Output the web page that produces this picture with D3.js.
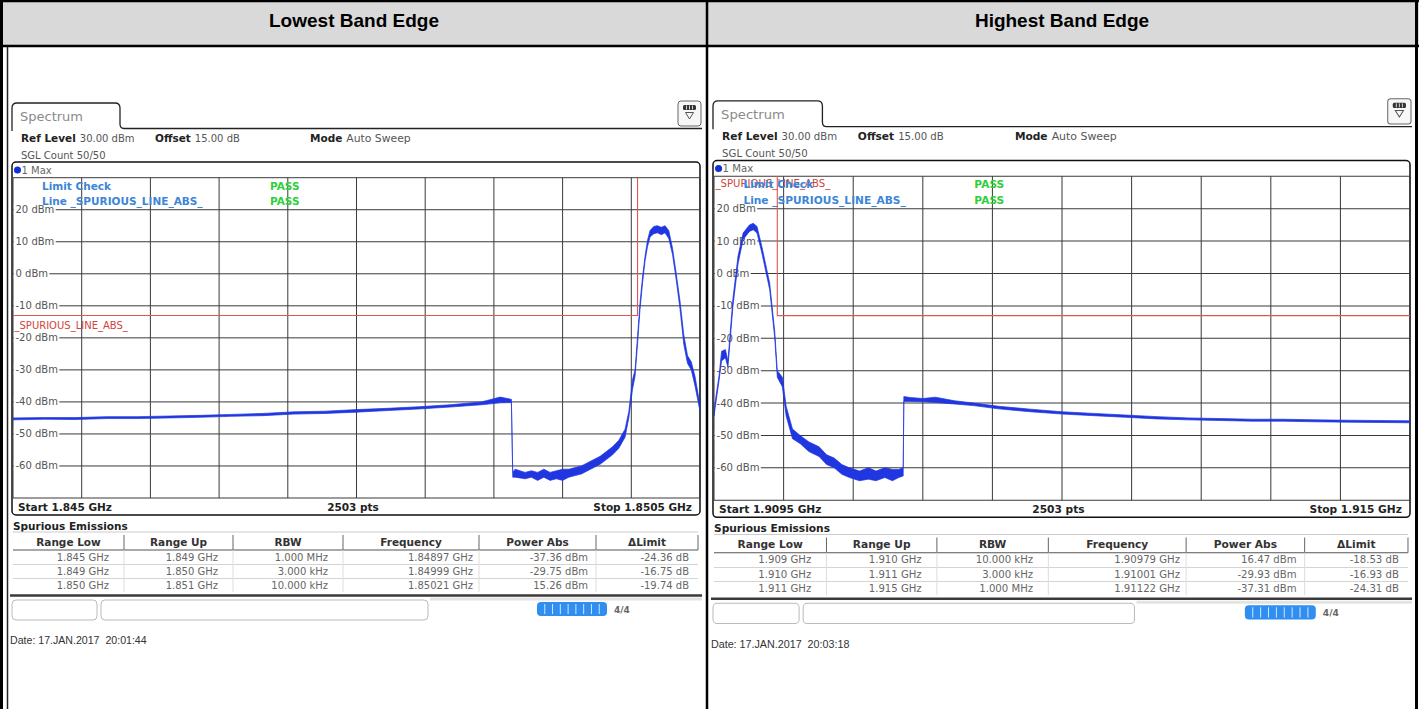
<!DOCTYPE html>
<html>
<head>
<meta charset="utf-8">
<script src="https://cdnjs.cloudflare.com/ajax/libs/d3/7.8.5/d3.min.js"></script>
<style>
body { margin: 0; background: #fff; }
svg text { font-family: "DejaVu Sans", sans-serif; }
</style>
</head>
<body>
<div id="viz"></div>
<script>
// column titles of the outer table
var titles = ["Lowest Band Edge", "Highest Band Edge"];

// level grid labels (dBm)
var levelTicks = [20, 10, 0, -10, -20, -30, -40, -50, -60];

var lowFreq = [1845.00, 1845.25, 1845.50, 1845.75, 1846.00, 1846.25, 1846.50, 1846.75, 1847.00, 1847.25,
  1847.50, 1847.75, 1848.00, 1848.25, 1848.50, 1848.75, 1848.90, 1848.99, 1849.001, 1849.02,
  1849.10, 1849.15, 1849.20, 1849.25, 1849.30, 1849.35, 1849.40, 1849.45, 1849.50, 1849.55,
  1849.60, 1849.65, 1849.70, 1849.75, 1849.80, 1849.85, 1849.90, 1849.93, 1849.96, 1849.98,
  1850.00, 1850.02, 1850.04, 1850.06, 1850.08, 1850.10, 1850.13, 1850.16, 1850.19, 1850.22,
  1850.25, 1850.28, 1850.31, 1850.34, 1850.37, 1850.40, 1850.43, 1850.46, 1850.50];
var lowLo = [-45.6, -45.4, -45.5, -45.2, -45.2, -45.0, -44.8, -44.5, -44.3, -43.8,
  -43.6, -43.2, -42.7, -42.2, -41.6, -40.9, -40.3, -40.2, -63.5, -63.5,
  -64.0, -63.5, -64.5, -63.5, -64.5, -64.0, -64.5, -63.5, -63.0, -62.5,
  -61.5, -60.5, -59.5, -58.0, -56.5, -54.5, -51.0, -45.0, -36.0, -32.0,
  -22.0, -11.0, -3.0, 4.0, 8.5, 11.5, 12.5, 12.8, 12.2, 12.8,
  11.0, 6.0, -2.0, -11.0, -22.0, -28.0, -30.0, -35.0, -43.0];
var lowHi = [-45.0, -44.9, -44.9, -44.6, -44.6, -44.4, -44.2, -43.9, -43.6, -43.1,
  -42.9, -42.4, -42.0, -41.5, -40.9, -40.0, -38.5, -39.2, -62.0, -61.0,
  -62.0, -61.5, -62.0, -61.0, -62.0, -61.5, -61.0, -61.0, -60.5, -60.0,
  -59.0, -58.0, -57.0, -55.5, -54.0, -52.0, -48.5, -43.0, -33.0, -30.0,
  -19.5, -9.0, -1.0, 5.5, 10.5, 13.5, 14.8, 15.0, 14.5, 15.0,
  13.5, 8.0, 0.0, -8.5, -19.0, -25.5, -27.5, -32.0, -41.0];

// highest band edge trace
var highFreq = [1909.50, 1909.54, 1909.56, 1909.59, 1909.61, 1909.65, 1909.69, 1909.73, 1909.78, 1909.81,
  1909.84, 1909.88, 1909.94, 1909.98, 1910.00, 1910.04, 1910.07, 1910.12, 1910.18, 1910.25,
  1910.33, 1910.39, 1910.45, 1910.51, 1910.57, 1910.65, 1910.72, 1910.78, 1910.85, 1910.91,
  1910.96, 1910.995, 1911.00, 1911.05, 1911.15, 1911.25, 1911.40, 1911.55, 1911.75, 1912.00,
  1912.25, 1912.50, 1912.75, 1913.00, 1913.25, 1913.50, 1913.75, 1914.00, 1914.25, 1914.50,
  1914.75, 1915.00];
var highLo = [-44.0, -33.0, -27.0, -26.0, -29.0, -10.0, 3.0, 10.5, 13.0, 13.5,
  12.5, 6.0, -5.0, -20.0, -32.0, -35.0, -44.0, -51.0, -52.5, -55.0,
  -56.5, -59.0, -60.0, -62.0, -63.0, -64.0, -63.5, -64.0, -63.0, -64.0,
  -63.0, -62.5, -39.5, -39.5, -39.6, -39.8, -40.3, -40.8, -41.8, -42.7,
  -43.4, -43.9, -44.4, -44.9, -45.2, -45.4, -45.6, -45.6, -45.8, -45.9,
  -46.0, -46.1];
var highHi = [-42.0, -31.5, -24.0, -23.5, -27.0, -7.5, 5.5, 12.5, 15.0, 15.5,
  14.5, 8.0, -3.0, -18.0, -30.0, -32.0, -41.0, -48.0, -50.0, -52.0,
  -53.5, -56.0, -57.0, -59.0, -60.0, -61.0, -60.0, -61.0, -60.0, -60.5,
  -60.5, -60.0, -38.0, -38.3, -38.6, -38.2, -39.3, -40.0, -41.0, -41.9,
  -42.7, -43.2, -43.7, -44.2, -44.6, -44.8, -45.0, -45.0, -45.2, -45.3,
  -45.4, -45.5];

// limit lines (MHz / dBm)
var lowLimitFreq = [1845, 1850, 1850];
var lowLimitVal = [-13, -13, 40];
var highLimitFreq = [1910, 1910, 1915];
var highLimitVal = [40, -13, -13];

// spurious emissions result tables
var tableHead = ["Range Low", "Range Up", "RBW", "Frequency", "Power Abs", "\u0394Limit"];
var lowRows = [
  ["1.845 GHz", "1.849 GHz", "1.000 MHz", "1.84897 GHz", "-37.36 dBm", "-24.36 dB"],
  ["1.849 GHz", "1.850 GHz", "3.000 kHz", "1.84999 GHz", "-29.75 dBm", "-16.75 dB"],
  ["1.850 GHz", "1.851 GHz", "10.000 kHz", "1.85021 GHz", "15.26 dBm", "-19.74 dB"]];
var highRows = [
  ["1.909 GHz", "1.910 GHz", "10.000 kHz", "1.90979 GHz", "16.47 dBm", "-18.53 dB"],
  ["1.910 GHz", "1.911 GHz", "3.000 kHz", "1.91001 GHz", "-29.93 dBm", "-16.93 dB"],
  ["1.911 GHz", "1.915 GHz", "1.000 MHz", "1.91122 GHz", "-37.31 dBm", "-24.31 dB"]];

var startLabels = ["Start 1.845 GHz", "Start 1.9095 GHz"];
var stopLabels = ["Stop 1.8505 GHz", "Stop 1.915 GHz"];
var dates = ["Date: 17.JAN.2017  20:01:44", "Date: 17.JAN.2017  20:03:18"];

// layout of the screen shot (left one, pixel units)
var gridL = 13, gridR = 700, gridT = 177.7, gridB = 498;
var colEdges = [13, 124, 233, 343, 479, 596, 698];
var colRight = [109, 218, 328, 473, 588, 689];
var rowY = [557, 571.5, 585.7];
var blue = "#1f36e0";
var red = "#e0574f";

var svg = d3.select('#viz').append('svg')
  .attr('width', 1419)
  .attr('height', 709)
  .style('display', 'block');

svg.append('rect').attr('width', 1419).attr('height', 709).attr('fill', '#fff');

// outer table: header row and borders
svg.append('rect').attr('x', 0).attr('y', 0).attr('width', 1419).attr('height', 46).attr('fill', '#d9d9d9');
svg.selectAll('text.title')
  .data(titles).enter()
  .append('text')
  .attr('class', 'title')
  .attr('x', function(d, i) { return i == 0 ? 354 : 1062; })
  .attr('y', 27)
  .attr('text-anchor', 'middle')
  .attr('style', 'font-family: "Liberation Sans", Arial, sans-serif; font-size: 19px; font-weight: bold')
  .text(function(d) { return d; });

var border = 'stroke: #000; stroke-width: 2.5px';
svg.append('line').attr('x1', 0).attr('x2', 1419).attr('y1', 1).attr('y2', 1).attr('style', border);
svg.append('line').attr('x1', 0).attr('x2', 1419).attr('y1', 46).attr('y2', 46).attr('style', border);
svg.append('line').attr('x1', 1.5).attr('x2', 1.5).attr('y1', 0).attr('y2', 709).attr('style', 'stroke:#000; stroke-width: 3px');
svg.append('line').attr('x1', 707).attr('x2', 707).attr('y1', 0).attr('y2', 709).attr('style', border);
svg.append('line').attr('x1', 1416.5).attr('x2', 1416.5).attr('y1', 0).attr('y2', 709).attr('style', 'stroke:#000; stroke-width: 3px');
// dark edge of the left screen shot
svg.append('line').attr('x1', 7.5).attr('x2', 7.5).attr('y1', 47).attr('y2', 709).attr('style', 'stroke:#222; stroke-width: 1.5px');


function drawPanel(g, p, idx) {
  var x = d3.scaleLinear().domain([p.freq[0], p.freq[p.freq.length - 1]]).range([gridL, gridR]);
  var y = d3.scaleLinear().domain([30, -70]).range([gridT, gridB]);

  // tab and the line below it
  g.append('path')
    .attr('d', 'M12,131 V108 Q12,103 17,103 H115 Q120,103 120,108 V124 Q120,128.5 124,128.5 H702')
    .attr('style', 'fill: none; stroke: #222; stroke-width: 1.3px');
  g.append('text').attr('x', 20).attr('y', 121).attr('fill', '#8a8a8a').attr('font-size', '13px').text('Spectrum');

  // icon top right
  g.append('rect').attr('x', 678).attr('y', 101).attr('width', 23).attr('height', 25).attr('rx', 3)
    .attr('style', 'fill: #f7f7f7; stroke: #666; stroke-width: 1px');
  g.append('rect').attr('x', 683).attr('y', 105).attr('width', 13).attr('height', 5).attr('rx', 1.5).attr('fill', '#333');
  g.selectAll('line.ico').data([686.5, 689.5, 692.5]).enter().append('line')
    .attr('x1', function(d) { return d; }).attr('x2', function(d) { return d; })
    .attr('y1', 105.5).attr('y2', 109.5).attr('style', 'stroke: #fff; stroke-width: 0.8px');
  g.append('path').attr('d', 'M685.5,112.5 H693.5 L689.5,119 Z').attr('style', 'fill: none; stroke: #555; stroke-width: 1px');

  // setting line
  var hdr = g.append('text').attr('y', 142).attr('font-size', '10px').attr('fill', '#555');
  hdr.append('tspan').attr('x', 21).attr('font-weight', 'bold').attr('fill', '#222').attr('font-size', '10.5px').text('Ref Level');
  hdr.append('tspan').attr('dx', 4).text('30.00 dBm');
  hdr.append('tspan').attr('x', 155).attr('font-weight', 'bold').attr('fill', '#222').attr('font-size', '10.5px').text('Offset');
  hdr.append('tspan').attr('dx', 4).text('15.00 dB');
  hdr.append('tspan').attr('x', 310).attr('font-weight', 'bold').attr('fill', '#222').attr('font-size', '10.5px').text('Mode');
  hdr.append('tspan').attr('dx', 4).attr('font-size', '10.8px').text('Auto Sweep');
  g.append('text').attr('x', 21).attr('y', 158.5).attr('font-size', '10px').attr('fill', '#555').text('SGL Count 50/50');

  // diagram frame
  g.append('rect').attr('x', 12).attr('y', 162).attr('width', 688).attr('height', 353).attr('rx', 4)
    .attr('style', 'fill: #fff; stroke: #111; stroke-width: 1.5px');
  g.append('circle').attr('cx', 17.5).attr('cy', 170).attr('r', 3.5).attr('fill', '#1030d8');
  g.append('text').attr('x', 21.5).attr('y', 173.5).attr('font-size', '10px').attr('fill', '#666').text('1 Max');

  // grid
  var span = x.domain()[1] - x.domain()[0];
  var vLines = d3.range(0, 11).map(function(i) { return x.domain()[0] + i * span / 10; });
  var hLines = d3.range(30, -71, -10);
  var grid = g.append('g');
  grid.selectAll('line.v').data(vLines).enter().append('line')
    .attr('x1', function(d) { return x(d); }).attr('x2', function(d) { return x(d); })
    .attr('y1', gridT).attr('y2', gridB)
    .attr('style', 'stroke: #3a3a3a; stroke-width: 1px');
  grid.selectAll('line.h').data(hLines).enter().append('line')
    .attr('x1', gridL).attr('x2', gridR)
    .attr('y1', function(d) { return y(d); }).attr('y2', function(d) { return y(d); })
    .attr('style', 'stroke: #3a3a3a; stroke-width: 1px');

  // level labels on a white backing
  var lvl = g.selectAll('g.lvl').data(levelTicks).enter().append('g')
    .attr('transform', function(d) { return 'translate(0,' + y(d) + ')'; });
  var bg = lvl.append('rect').attr('x', 13.8).attr('y', -5).attr('height', 10).attr('fill', '#fff');
  var lt = lvl.append('text')
    .attr('x', 15.5).attr('y', 3.5)
    .attr('font-size', '10px').attr('fill', '#555')
    .text(function(d) { return d + ' dBm'; });
  bg.attr('width', function(d, i) { return lt.nodes()[i].getComputedTextLength() + 3; });

  // clip for the traces
  g.append('clipPath').attr('id', 'clip' + idx).append('rect')
    .attr('x', gridL).attr('y', gridT).attr('width', gridR - gridL).attr('height', gridB - gridT);

  // limit line
  var lim = p.limF.map(function(f, i) { return [f, p.limV[i]]; });
  g.append('path').datum(lim)
    .attr('clip-path', 'url(#clip' + idx + ')')
    .attr('d', d3.line().x(function(d) { return x(d[0]); }).y(function(d) { return y(d[1]); }))
    .attr('style', 'fill: none; stroke: ' + red + '; stroke-width: 1.1px');
  g.append('text').attr('x', 14.5).attr('y', p.limLabelY)
    .attr('font-size', '10px').attr('fill', '#d0443c').text('_SPURIOUS_LINE_ABS_');

  // limit check
  g.append('text').attr('x', 42).attr('y', 189.5).attr('font-size', '10.5px').attr('font-weight', 'bold')
    .attr('fill', '#3d86d6').text('Limit Check');
  g.append('text').attr('x', 42).attr('y', 205).attr('font-size', '10.5px').attr('font-weight', 'bold')
    .attr('fill', '#3d86d6').text('Line _SPURIOUS_LINE_ABS_');
  g.selectAll('text.pass').data([189.5, 205]).enter().append('text')
    .attr('x', 270).attr('y', function(d) { return d; })
    .attr('font-size', '10.5px').attr('font-weight', 'bold').attr('fill', '#2fcf3a').text('PASS');

  // trace
  var pts = p.freq.map(function(f, i) { return {f: f, lo: p.lo[i], hi: p.hi[i]}; });
  g.append('path').datum(pts)
    .attr('clip-path', 'url(#clip' + idx + ')')
    .attr('d', d3.area()
      .x(function(d) { return x(d.f); })
      .y0(function(d) { return y(d.lo); })
      .y1(function(d) { return y(d.hi); }))
    .attr('style', 'fill: ' + blue + '; stroke: ' + blue + '; stroke-width: 0.7px; stroke-linejoin: round');

  // footer of the diagram
  g.append('text').attr('x', 18).attr('y', 510.5).attr('font-size', '10.5px').attr('font-weight', 'bold').attr('fill', '#222').text(p.startText);
  g.append('text').attr('x', 353).attr('y', 510.5).attr('text-anchor', 'middle').attr('font-size', '10.5px').attr('font-weight', 'bold').attr('fill', '#222').text('2503 pts');
  g.append('text').attr('x', 692).attr('y', 510.5).attr('text-anchor', 'end').attr('font-size', '10.5px').attr('font-weight', 'bold').attr('fill', '#222').text(p.stopText);

  // result table
  g.append('text').attr('x', 13).attr('y', 529.5).attr('font-size', '10.5px').attr('font-weight', 'bold').attr('fill', '#222').text('Spurious Emissions');
  g.append('line').attr('x1', 13).attr('x2', 698).attr('y1', 532).attr('y2', 532).attr('style', 'stroke: #ccc; stroke-width: 1px');
  g.append('line').attr('x1', 13).attr('x2', 698).attr('y1', 550).attr('y2', 550).attr('style', 'stroke: #555; stroke-width: 1.2px');
  g.selectAll('line.rowsep').data([564.5, 578.5]).enter().append('line')
    .attr('x1', 13).attr('x2', 698).attr('y1', function(d) { return d; }).attr('y2', function(d) { return d; })
    .attr('style', 'stroke: #d4d4d4; stroke-width: 1px');
  g.selectAll('line.colsep').data(colEdges.slice(1)).enter().append('line')
    .attr('x1', function(d) { return d; }).attr('x2', function(d) { return d; })
    .attr('y1', 535).attr('y2', 550).attr('style', 'stroke: #666; stroke-width: 1px');
  g.selectAll('line.colsep2').data(colEdges.slice(1, 6)).enter().append('line')
    .attr('x1', function(d) { return d; }).attr('x2', function(d) { return d; })
    .attr('y1', 550).attr('y2', 592).attr('style', 'stroke: #ddd; stroke-width: 1px');
  g.selectAll('text.th').data(tableHead).enter().append('text')
    .attr('x', function(d, i) { return (colEdges[i] + colEdges[i + 1]) / 2; })
    .attr('y', 545.5).attr('text-anchor', 'middle')
    .attr('font-size', '10.5px').attr('font-weight', 'bold').attr('fill', '#333')
    .text(function(d) { return d; });
  p.rows.forEach(function(row, r) {
    g.selectAll('text.td' + r).data(row).enter().append('text')
      .attr('x', function(d, i) { return colRight[i]; })
      .attr('y', rowY[r] + 3.5).attr('text-anchor', 'end')
      .attr('font-size', '10px').attr('fill', '#666')
      .text(function(d) { return d; });
  });
  g.append('line').attr('x1', 10).attr('x2', 702).attr('y1', 595.5).attr('y2', 595.5).attr('style', 'stroke: #3a3a3a; stroke-width: 2.5px');
  g.append('line').attr('x1', 430).attr('x2', 702).attr('y1', 599).attr('y2', 599).attr('style', 'stroke: #e3e3e3; stroke-width: 3px');

  // status bar
  g.append('rect').attr('x', 12).attr('y', 600).attr('width', 85).attr('height', 20).attr('rx', 4)
    .attr('style', 'fill: #fff; stroke: #bbb; stroke-width: 1px');
  g.append('rect').attr('x', 101).attr('y', 600).attr('width', 327).attr('height', 20).attr('rx', 4)
    .attr('style', 'fill: #fff; stroke: #bbb; stroke-width: 1px');
  g.append('rect').attr('x', 537).attr('y', 602).attr('width', 70).attr('height', 14).attr('rx', 4).attr('fill', '#2f8ef0');
  g.selectAll('line.prog').data(d3.range(1, 9)).enter().append('line')
    .attr('x1', function(d) { return 537 + d * 70 / 9; }).attr('x2', function(d) { return 537 + d * 70 / 9; })
    .attr('y1', 604).attr('y2', 614).attr('style', 'stroke: #cfe6ff; stroke-width: 1px');
  g.append('text').attr('x', 614).attr('y', 613).attr('font-size', '9px').attr('font-weight', 'bold').attr('fill', '#666').text('4/4');

  g.append('text').attr('x', 10).attr('y', 644)
    .attr('style', 'font-family: "Liberation Sans", Arial, sans-serif; font-size: 10.6px; fill: #333; white-space: pre')
    .text(p.date);
}

var left = svg.append('g');
drawPanel(left, {
  freq: lowFreq, lo: lowLo, hi: lowHi,
  limF: lowLimitFreq, limV: lowLimitVal, limLabelY: 328.5,
  startText: startLabels[0], stopText: stopLabels[0],
  rows: lowRows, date: dates[0]
}, 0);

var right = svg.append('g').attr('transform', 'translate(700.84,-3.3) scale(1.0131,1.011)');
drawPanel(right, {
  freq: highFreq, lo: highLo, hi: highHi,
  limF: highLimitFreq, limV: highLimitVal, limLabelY: 188,
  startText: startLabels[1], stopText: stopLabels[1],
  rows: highRows, date: dates[1]
}, 1);
</script>
</body>
</html>
